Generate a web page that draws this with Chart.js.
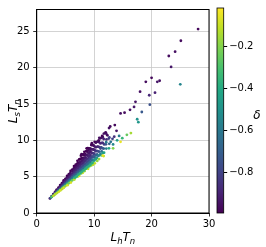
<!DOCTYPE html>
<html>
<head>
<meta charset="utf-8">
<script src="https://cdn.jsdelivr.net/npm/chart.js@4.4.1/dist/chart.umd.min.js"></script>
<style>
  html, body { margin: 0; padding: 0; background: #fff; }
  #wrap { position: relative; width: 266px; height: 247px; }
  #wrap canvas { position: absolute; left: 0; top: 0; }
</style>
</head>
<body>
<div id="wrap">
  <canvas id="main" width="266" height="247"></canvas>
  <canvas id="cbar" width="266" height="247"></canvas>
</div>
<script>
// ---- data ----
// dense band: one line per L_h T_n column
const bandX = [
  2.3, 2.4,
  2.6, 2.62, 2.57,
  2.9, 2.87, 2.93, 2.9,
  3.2, 3.23, 3.17, 3.21, 3.19,
  3.5, 3.46, 3.53, 3.49, 3.55, 3.5,
  3.8, 3.84, 3.77, 3.82, 3.79, 3.83,
  4.1, 4.06, 4.13, 4.09, 4.15, 4.08, 4.12,
  4.4, 4.44, 4.37, 4.42, 4.38, 4.45, 4.41,
  4.7, 4.66, 4.73, 4.69, 4.75, 4.68, 4.72, 4.7,
  5.0, 5.05, 4.97, 5.02, 4.96, 5.04, 5.0,
  5.3, 5.26, 5.34, 5.28, 5.33, 5.25, 5.31, 5.36,
  5.6, 5.64, 5.57, 5.62, 5.55, 5.63, 5.59,
  5.9, 5.86, 5.94, 5.88, 5.93, 5.85, 5.91, 5.95,
  6.2, 6.25, 6.16, 6.22, 6.18, 6.24, 6.2,
  6.5, 6.46, 6.54, 6.48, 6.53, 6.45, 6.51, 6.56,
  6.8, 6.84, 6.77, 6.83, 6.76, 6.82, 6.79,
  7.1, 7.06, 7.14, 7.08, 7.13, 7.05, 7.11, 7.15,
  7.4, 7.45, 7.36, 7.42, 7.38, 7.44, 7.37, 7.41,
  7.7, 7.66, 7.74, 7.68, 7.73, 7.65, 7.71, 7.75,
  8.0, 8.05, 7.96, 8.02, 7.98, 8.04, 7.97, 8.01,
  8.3, 8.26, 8.34, 8.28, 8.33, 8.25, 8.31, 8.35,
  8.6, 8.65, 8.56, 8.62, 8.58, 8.64, 8.6,
  8.9, 8.86, 8.94, 8.88, 8.93, 8.85, 8.91, 8.95,
  9.2, 9.25, 9.16, 9.22, 9.18, 9.24, 9.2,
  9.5, 9.46, 9.54, 9.48, 9.53, 9.45, 9.51,
  9.8, 9.85, 9.76, 9.82, 9.78, 9.84, 9.8,
  10.1, 10.06, 10.14, 10.08, 10.13, 10.05, 10.11,
  10.5, 10.55, 10.46, 10.52, 10.48, 10.54,
  10.9, 10.86, 10.94, 10.88, 10.93, 10.85,
  11.3, 11.35, 11.26, 11.32, 11.28,
  11.7, 11.66, 11.74, 11.68, 11.73, 11.65,
  12.1, 12.15, 12.06, 12.12,
  12.6, 12.55, 12.64, 12.58
];
const bandY = [
  2.00, 2.05,
  2.30, 2.24, 2.20,
  2.60, 2.51, 2.43, 2.37,
  2.90, 2.81, 2.72, 2.63, 2.56,
  3.22, 3.10, 3.00, 2.90, 2.82, 2.74,
  3.50, 3.35, 3.23, 3.11, 3.01, 2.92,
  3.84, 3.69, 3.55, 3.40, 3.28, 3.17, 3.10,
  4.10, 3.93, 3.76, 3.62, 3.49, 3.39, 3.30,
  4.47, 4.28, 4.09, 3.92, 3.78, 3.66, 3.54, 3.46,
  4.70, 4.51, 4.32, 4.13, 3.97, 3.84, 3.70,
  5.12, 4.88, 4.67, 4.46, 4.28, 4.10, 3.95, 3.83,
  5.33, 5.10, 4.87, 4.64, 4.44, 4.28, 4.11,
  5.78, 5.49, 5.24, 4.99, 4.77, 4.56, 4.38, 4.20,
  5.98, 5.71, 5.43, 5.16, 4.93, 4.69, 4.50,
  6.45, 6.12, 5.82, 5.53, 5.28, 5.02, 4.81, 4.60,
  6.64, 6.32, 6.01, 5.69, 5.42, 5.15, 4.93,
  7.18, 6.80, 6.46, 6.13, 5.79, 5.50, 5.26, 5.02,
  7.36, 6.95, 6.59, 6.23, 5.93, 5.62, 5.37, 5.11,
  7.89, 7.45, 7.08, 6.70, 6.32, 6.00, 5.73, 5.46,
  8.04, 7.59, 7.19, 6.79, 6.45, 6.10, 5.82, 5.53,
  8.42, 7.94, 7.52, 7.10, 6.74, 6.38, 6.08, 5.78,
  8.49, 7.99, 7.54, 7.10, 6.73, 6.41, 6.10,
  8.93, 8.40, 7.87, 7.41, 7.02, 6.69, 6.36, 6.09,
  8.90, 8.42, 7.93, 7.52, 7.11, 6.76, 6.42,
  9.34, 8.77, 8.26, 7.76, 7.33, 6.90, 6.54,
  9.35, 8.75, 8.23, 7.78, 7.33, 6.95, 6.65,
  9.80, 9.18, 8.63, 8.08, 7.62, 7.23, 6.84,
  9.79, 9.13, 8.56, 8.07, 7.58, 7.17,
  10.34, 9.74, 9.05, 8.45, 7.93, 7.42,
  10.37, 9.65, 9.02, 8.48, 7.94,
  10.93, 10.18, 9.43, 8.86, 8.30, 7.83,
  10.92, 10.13, 9.45, 8.86,
  11.68, 10.24, 9.52, 8.90
];
const bandD = [
  -0.95, -0.75,
  -0.98, -0.82, -0.3,
  -0.98, -0.88, -0.65, -0.12,
  -0.98, -0.92, -0.82, -0.58, -0.12,
  -0.98, -0.93, -0.86, -0.72, -0.48, -0.12,
  -0.98, -0.92, -0.85, -0.7, -0.42, -0.08,
  -0.98, -0.94, -0.89, -0.79, -0.62, -0.32, -0.08,
  -0.98, -0.93, -0.87, -0.77, -0.62, -0.38, -0.12,
  -0.99, -0.95, -0.9, -0.82, -0.7, -0.53, -0.25, -0.08,
  -0.98, -0.94, -0.89, -0.81, -0.68, -0.48, -0.18,
  -0.99, -0.96, -0.91, -0.85, -0.74, -0.58, -0.32, -0.08,
  -0.98, -0.94, -0.9, -0.82, -0.7, -0.53, -0.25,
  -0.99, -0.96, -0.92, -0.86, -0.77, -0.62, -0.38, -0.08,
  -0.98, -0.95, -0.9, -0.83, -0.72, -0.53, -0.25,
  -0.99, -0.97, -0.92, -0.87, -0.79, -0.65, -0.42, -0.12,
  -0.99, -0.96, -0.91, -0.85, -0.74, -0.58, -0.32,
  -0.99, -0.98, -0.94, -0.89, -0.81, -0.68, -0.48, -0.18,
  -0.99, -0.96, -0.92, -0.86, -0.77, -0.62, -0.38, -0.08,
  -0.99, -0.98, -0.94, -0.9, -0.82, -0.7, -0.53, -0.25,
  -0.99, -0.97, -0.92, -0.87, -0.79, -0.65, -0.42, -0.12,
  -0.99, -0.97, -0.93, -0.88, -0.81, -0.68, -0.48, -0.18,
  -0.99, -0.95, -0.9, -0.83, -0.72, -0.58, -0.32,
  -0.99, -0.96, -0.91, -0.85, -0.74, -0.62, -0.38, -0.12,
  -0.98, -0.94, -0.89, -0.82, -0.7, -0.53, -0.25,
  -0.98, -0.94, -0.9, -0.82, -0.7, -0.48, -0.18,
  -0.97, -0.92, -0.86, -0.77, -0.62, -0.38, -0.12,
  -0.98, -0.93, -0.88, -0.79, -0.65, -0.42, -0.12,
  -0.95, -0.9, -0.82, -0.7, -0.48, -0.18,
  -0.96, -0.92, -0.85, -0.72, -0.53, -0.18,
  -0.94, -0.88, -0.79, -0.65, -0.38,
  -0.95, -0.9, -0.81, -0.68, -0.42, -0.12,
  -0.92, -0.86, -0.74, -0.58,
  -0.94, -0.82, -0.68, -0.42
];

// in-between columns of the upper band
const midX = [
  6.65, 6.65, 6.65, 6.65, 6.65, 6.65,
  6.95, 6.95, 6.95, 6.95, 6.95, 6.95,
  7.25, 7.25, 7.25, 7.25, 7.25, 7.25,
  7.55, 7.55, 7.55, 7.55, 7.55, 7.55,
  7.85, 7.85, 7.85, 7.85, 7.85, 7.85,
  8.15, 8.15, 8.15, 8.15, 8.15, 8.15,
  8.45, 8.45, 8.45, 8.45, 8.45, 8.45,
  8.75, 8.75, 8.75, 8.75, 8.75, 8.75,
  9.05, 9.05, 9.05, 9.05, 9.05, 9.05,
  9.35, 9.35, 9.35, 9.35, 9.35, 9.35,
  9.65, 9.65, 9.65, 9.65, 9.65, 9.65,
  9.95, 9.95, 9.95, 9.95, 9.95,
  10.3, 10.3, 10.3, 10.3, 10.3,
  10.7, 10.7, 10.7, 10.7,
  11.1, 11.1, 11.1, 11.1,
  11.5, 11.5, 11.5, 11.5
];
const midY = [
  6.31, 6.00, 5.70, 5.39, 5.13, 4.87,
  6.60, 6.28, 5.95, 5.63, 5.35, 5.07,
  6.90, 6.55, 6.21, 5.86, 5.56, 5.27,
  7.41, 6.83, 6.46, 6.10, 5.78, 5.47,
  7.55, 7.11, 6.72, 6.33, 6.00, 5.66,
  8.08, 7.38, 6.97, 6.56, 6.21, 5.86,
  8.09, 7.66, 7.23, 6.80, 6.43, 6.06,
  8.58, 7.93, 7.48, 7.03, 6.64, 6.26,
  8.68, 8.21, 7.74, 7.27, 6.86, 6.46,
  8.84, 8.49, 7.99, 7.50, 7.08, 6.65,
  9.35, 8.76, 8.25, 7.73, 7.29, 6.85,
  9.27, 8.73, 8.20, 7.74, 7.28,
  9.68, 9.04, 8.48, 7.92, 7.44,
  9.81, 9.14, 8.47, 7.88,
  10.27, 9.57, 8.86, 8.16,
  10.46, 9.64, 8.90, 8.26
];
const midD = [
  -0.97, -0.93, -0.88, -0.79, -0.65, -0.38,
  -0.97, -0.93, -0.88, -0.79, -0.65, -0.38,
  -0.97, -0.93, -0.88, -0.79, -0.65, -0.38,
  -0.99, -0.93, -0.88, -0.79, -0.65, -0.38,
  -0.98, -0.93, -0.88, -0.79, -0.65, -0.38,
  -0.99, -0.93, -0.88, -0.79, -0.65, -0.38,
  -0.97, -0.93, -0.88, -0.79, -0.65, -0.38,
  -0.98, -0.93, -0.88, -0.79, -0.65, -0.38,
  -0.97, -0.93, -0.88, -0.79, -0.65, -0.38,
  -0.96, -0.93, -0.88, -0.79, -0.65, -0.38,
  -0.98, -0.93, -0.88, -0.79, -0.65, -0.38,
  -0.95, -0.91, -0.83, -0.72, -0.5,
  -0.96, -0.91, -0.83, -0.7, -0.45,
  -0.94, -0.88, -0.77, -0.58,
  -0.95, -0.89, -0.79, -0.58,
  -0.93, -0.86, -0.72, -0.45
];

// sparse tail and points sticking out of the band
const tailX = [28.1, 25.1, 24.1, 23.0, 23.4, 25.0, 21.4, 21.0, 20.0, 19.0, 20.6, 19.6,
  19.7, 18.0, 17.2, 18.3, 16.95, 16.25, 15.3, 14.6, 17.5, 17.7, 16.4, 15.7, 14.6,
  13.6, 12.8, 13.9, 14.35, 14.9, 13.3, 11.5, 13.2, 12.9, 13.5, 14.0,
  10.8, 11.4, 12.0, 12.3, 9.6, 8.7, 7.8, 12.1, 12.65, 13.3];
const tailY = [25.3, 23.7, 22.2, 21.6, 20.1, 17.7, 18.2, 18.05, 18.6, 18.05, 16.55, 16.2,
  14.9, 16.7, 15.3, 13.9, 14.6, 14.2, 13.8, 13.7, 12.9, 12.5, 11.0, 10.75, 9.8,
  12.1, 11.9, 11.3, 10.6, 10.3, 8.9, 7.9, 10.2, 9.8, 10.5, 10.0,
  10.0, 10.6, 11.1, 10.7, 9.6, 8.9, 8.1, 9.75, 10.4, 9.43];
const tailD = [-0.97, -0.96, -0.95, -0.96, -0.93, -0.55, -0.95, -0.93, -0.97, -0.96, -0.9, -0.88,
  -0.75, -0.95, -0.94, -0.72, -0.93, -0.95, -0.96, -0.95, -0.5, -0.48, -0.15, -0.25, -0.05,
  -0.97, -0.96, -0.93, -0.6, -0.35, -0.2, -0.05, -0.8, -0.62, -0.85, -0.45,
  -0.97, -0.98, -0.97, -0.95, -0.98, -0.99, -0.98, -0.6, -0.8, -0.55];

const xTicks = [0, 10, 20, 30];
const yTicks = [0, 5, 10, 15, 20, 25];
const cTicks = [-0.8, -0.6, -0.4, -0.2];
const dMin = -0.99, dMax = -0.02;

// viridis
const VIR = ['#440154', '#482475', '#414487', '#355f8d', '#2a788e', '#21918c',
             '#22a884', '#44bf70', '#7ad151', '#bddf26', '#fde725'];
function hexRgb(h) { return [1, 3, 5].map(i => parseInt(h.substr(i, 2), 16)); }
function viridis(t) {
  t = Math.max(0, Math.min(1, t)) * 10;
  const i = Math.min(9, Math.floor(t)), f = t - i;
  const a = hexRgb(VIR[i]), b = hexRgb(VIR[i + 1]);
  const c = a.map((v, k) => Math.round(v + (b[k] - v) * f));
  return `rgb(${c[0]},${c[1]},${c[2]})`;
}

const xs = bandX.concat(midX, tailX), ys = bandY.concat(midY, tailY), ds = bandD.concat(midD, tailD);
const points = xs.map((x, i) => ({ x: x, y: ys[i] }));
const colors = ds.map(d => viridis((d - dMin) / (dMax - dMin)));

const FONT = 'DejaVu Sans';
const tickFont = { family: FONT, size: 10 };

// math-style label: L_h T_n
function drawMathLabel(ctx, parts, cx, cy) {
  const big = 'italic 12px ' + FONT, small = 'italic 8.5px ' + FONT;
  let w = 0;
  parts.forEach(p => { ctx.font = p.sub ? small : big; w += ctx.measureText(p.t).width; });
  let x = cx - w / 2;
  ctx.fillStyle = '#000';
  ctx.textBaseline = 'alphabetic';
  ctx.textAlign = 'left';
  parts.forEach(p => {
    ctx.font = p.sub ? small : big;
    ctx.fillText(p.t, x, cy + (p.sub ? 2.5 : 0));
    x += ctx.measureText(p.t).width;
  });
}

const framePlugin = {
  id: 'frame',
  afterDraw(chart) {
    const { ctx, chartArea: a } = chart;
    ctx.save();
    ctx.strokeStyle = '#000';
    ctx.lineWidth = 1;
    ctx.strokeRect(a.left, a.top, a.right - a.left, a.bottom - a.top);
    drawMathLabel(ctx, [{ t: 'L' }, { t: 'h', sub: 1 }, { t: 'T' }, { t: 'n', sub: 1 }],
      (a.left + a.right) / 2, 241);
    ctx.translate(17, (a.top + a.bottom) / 2);
    ctx.rotate(-Math.PI / 2);
    drawMathLabel(ctx, [{ t: 'L' }, { t: 's', sub: 1 }, { t: 'T' }, { t: 'n', sub: 1 }], 0, 0);
    ctx.restore();
  }
};

new Chart(document.getElementById('main'), {
  type: 'scatter',
  data: {
    datasets: [{
      data: points,
      pointBackgroundColor: colors,
      pointRadius: 1.4,
      pointBorderWidth: 0,
      pointHoverRadius: 1.4
    }]
  },
  options: {
    responsive: false,
    animation: false,
    layout: { padding: { top: 7, right: 57, left: 0, bottom: 0 } },
    plugins: { legend: { display: false }, tooltip: { enabled: false } },
    scales: {
      x: {
        min: 0, max: 30,
        afterBuildTicks: s => { s.ticks = xTicks.map(v => ({ value: v })); },
        afterFit: s => { s.height = 34; },
        grid: { color: '#c8c8c8', lineWidth: 0.8, tickColor: '#000', tickLength: 3.5 },
        border: { display: true, color: '#000' },
        ticks: { font: tickFont, color: '#000', padding: 2, maxRotation: 0 }
      },
      y: {
        min: 0, max: 28,
        afterBuildTicks: s => { s.ticks = yTicks.map(v => ({ value: v })); },
        afterFit: s => { s.width = 36.7; },
        grid: { color: '#c8c8c8', lineWidth: 0.8, tickColor: '#000', tickLength: 3.5 },
        border: { display: true, color: '#000' },
        ticks: { font: tickFont, color: '#000', padding: 3.5 }
      }
    }
  },
  plugins: [framePlugin]
});

// colorbar
const cbarPlugin = {
  id: 'cbar',
  beforeDatasetsDraw(chart) {
    const { ctx, chartArea: a } = chart;
    const g = ctx.createLinearGradient(0, a.bottom, 0, a.top);
    VIR.forEach((c, i) => g.addColorStop(i / 10, c));
    ctx.save();
    ctx.fillStyle = g;
    ctx.fillRect(a.left, a.top, a.right - a.left, a.bottom - a.top);
    ctx.strokeStyle = '#000';
    ctx.lineWidth = 0.8;
    ctx.strokeRect(a.left, a.top, a.right - a.left, a.bottom - a.top);
    ctx.fillStyle = '#000';
    ctx.font = 'italic 12px ' + FONT;
    ctx.textAlign = 'center';
    ctx.textBaseline = 'middle';
    ctx.fillText('δ', 257, (a.top + a.bottom) / 2 + 5);
    ctx.restore();
  }
};

new Chart(document.getElementById('cbar'), {
  type: 'scatter',
  data: { datasets: [] },
  options: {
    responsive: false,
    animation: false,
    layout: { padding: { top: 7, right: 0, left: 217, bottom: 34 } },
    plugins: { legend: { display: false }, tooltip: { enabled: false } },
    scales: {
      x: { display: false, min: 0, max: 1 },
      y: {
        position: 'right',
        min: dMin, max: dMax,
        afterBuildTicks: s => { s.ticks = cTicks.map(v => ({ value: v })); },
        afterFit: s => { s.width = 42.3; },
        grid: { drawOnChartArea: false, tickColor: '#000', tickLength: 3.5 },
        border: { display: false },
        ticks: {
          font: tickFont, color: '#000', padding: 2,
          callback: v => '\u2212' + Math.abs(v).toFixed(1)
        }
      }
    }
  },
  plugins: [cbarPlugin]
});
</script>
</body>
</html>
